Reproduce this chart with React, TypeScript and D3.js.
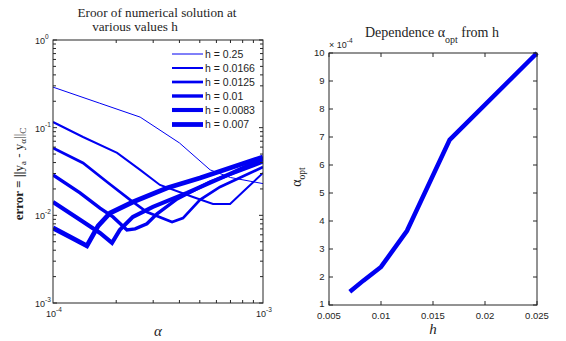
import React from "react";
import * as d3 from "d3";

// ---- Left chart data: error vs alpha for several h ----
const hLabels = ["h = 0.25", "h = 0.0166", "h = 0.0125", "h = 0.01", "h = 0.0083", "h = 0.007"];

const alpha_h025 = [1e-4, 1.67e-4, 2.6e-4, 4.0e-4, 5.6e-4, 7.0e-4, 1e-3];
const err_h025 = [0.29, 0.19, 0.132, 0.067, 0.033, 0.027, 0.023];

const alpha_h0166 = [1e-4, 1.39e-4, 2.02e-4, 2.6e-4, 3.23e-4, 4.64e-4, 5.78e-4, 6.97e-4, 8.39e-4, 1e-3];
const err_h0166 = [0.116, 0.0783, 0.0515, 0.033, 0.0222, 0.0162, 0.0135, 0.0135, 0.0205, 0.0304];

const alpha_h0125 = [1e-4, 1.39e-4, 1.81e-4, 2.33e-4, 2.8e-4, 3.69e-4, 4.16e-4, 5.01e-4, 6.24e-4, 1e-3];
const err_h0125 = [0.0587, 0.0396, 0.024, 0.015, 0.0109, 0.0084, 0.0093, 0.015, 0.0211, 0.0356];

const alpha_h01 = [1e-4, 1.345e-4, 1.674e-4, 1.93e-4, 2.25e-4, 2.46e-4, 2.8e-4, 3.13e-4, 3.9e-4, 5.59e-4, 1e-3];
const err_h01 = [0.0289, 0.018, 0.0121, 0.0096, 0.00682, 0.007, 0.008, 0.0104, 0.0154, 0.024, 0.0406];

const alpha_h0083 = [1e-4, 1.345e-4, 1.674e-4, 1.91e-4, 2.08e-4, 2.4e-4, 2.99e-4, 4.35e-4, 6.97e-4, 1e-3];
const err_h0083 = [0.0142, 0.0089, 0.0063, 0.00485, 0.00682, 0.0096, 0.0125, 0.018, 0.0297, 0.044];

const alpha_h007 = [1e-4, 1.205e-4, 1.45e-4, 1.64e-4, 1.87e-4, 2.4e-4, 3.49e-4, 5.01e-4, 1e-3];
const err_h007 = [0.00718, 0.00567, 0.00448, 0.00757, 0.01064, 0.0142, 0.0205, 0.0267, 0.0463];

const leftXTicks = [1e-4, 1e-3];
const leftXTickExp = ["-4", "-3"];
const leftYTicks = [1, 1e-1, 1e-2, 1e-3];
const leftYTickExp = ["0", "-1", "-2", "-3"];

// ---- Right chart data: alpha_opt vs h ----
const hValues = [0.007, 0.0083, 0.01, 0.0125, 0.0166, 0.025];
const alphaOpt = [1.47, 1.87, 2.36, 3.65, 6.9, 10]; // x 1e-4
const rightXTicks = [0.005, 0.01, 0.015, 0.02, 0.025];
const rightXTickLabels = ["0.005", "0.01", "0.015", "0.02", "0.025"];
const rightYTicks = [1, 2, 3, 4, 5, 6, 7, 8, 9, 10];

const BLUE = "#0000f2";
const AX = "#262626";
const TXT = "#1e1e1e";
const SANS = "'Liberation Sans', Arial, sans-serif";
const SERIF = "'Liberation Serif', 'Times New Roman', serif";

export default function App() {
  // left scales
  const L = { x0: 53, x1: 263, y0: 40, y1: 303 };
  const xL = d3.scaleLog().domain([1e-4, 1e-3]).range([L.x0, L.x1]);
  const yL = d3.scaleLog().domain([1e-3, 1]).range([L.y1, L.y0]);

  const series = [
    { a: alpha_h025, e: err_h025, w: 1 },
    { a: alpha_h0166, e: err_h0166, w: 2 },
    { a: alpha_h0125, e: err_h0125, w: 2.7 },
    { a: alpha_h01, e: err_h01, w: 3.4 },
    { a: alpha_h0083, e: err_h0083, w: 4.1 },
    { a: alpha_h007, e: err_h007, w: 4.8 },
  ];

  const lineL = d3
    .line<[number, number]>()
    .x((d) => xL(d[0]))
    .y((d) => yL(d[1]));

  // minor ticks
  const xMinor: number[] = [];
  for (let k = 2; k <= 9; k++) xMinor.push(k * 1e-4);
  const yMinor: number[] = [];
  for (const dec of [1e-3, 1e-2, 1e-1]) for (let k = 2; k <= 9; k++) yMinor.push(k * dec);

  // right scales
  const R = { x0: 329, x1: 537, y0: 53, y1: 305 };
  const xR = d3.scaleLinear().domain([0.005, 0.025]).range([R.x0, R.x1]);
  const yR = d3.scaleLinear().domain([1, 10]).range([R.y1, R.y0]);
  const lineR = d3
    .line<number>()
    .x((_, i) => xR(hValues[i]))
    .y((d) => yR(d));

  const tL = 3;
  const tR = 4;

  const legendY = [54, 68, 82, 96, 110, 124.5];

  return (
    <svg
      width={566}
      height={341}
      style={{ position: "absolute", left: 0, top: 0, background: "#fff" }}
    >
      <defs>
        <clipPath id="clipL">
          <rect x={L.x0} y={L.y0} width={L.x1 - L.x0} height={L.y1 - L.y0} />
        </clipPath>
      </defs>
      <rect x={0} y={0} width={566} height={341} fill="#fff" />

      {/* ---------- LEFT CHART ---------- */}
      <text x={157} y={17} fontFamily={SERIF} fontSize={13.2} fill={TXT} textAnchor="middle">
        Eroor of numerical solution at
      </text>
      <text x={135} y={31} fontFamily={SERIF} fontSize={13.2} fill={TXT} textAnchor="middle">
        various values h
      </text>

      <g clipPath="url(#clipL)">
        {series.map((s, i) => (
          <path
            key={i}
            d={lineL(s.a.map((a, j) => [a, s.e[j]] as [number, number])) || ""}
            fill="none"
            stroke={BLUE}
            strokeWidth={s.w}
            strokeLinejoin="miter"
          />
        ))}
      </g>

      {/* left box & ticks */}
      <rect x={L.x0} y={L.y0} width={L.x1 - L.x0} height={L.y1 - L.y0} fill="none" stroke={AX} strokeWidth={1} />
      {xMinor.map((v, i) => (
        <g key={"xm" + i} stroke={AX} strokeWidth={1}>
          <line x1={xL(v)} x2={xL(v)} y1={L.y1} y2={L.y1 - tL} />
          <line x1={xL(v)} x2={xL(v)} y1={L.y0} y2={L.y0 + tL} />
        </g>
      ))}
      {yMinor.map((v, i) => (
        <g key={"ym" + i} stroke={AX} strokeWidth={1}>
          <line x1={L.x0} x2={L.x0 + tL} y1={yL(v)} y2={yL(v)} />
          <line x1={L.x1} x2={L.x1 - tL} y1={yL(v)} y2={yL(v)} />
        </g>
      ))}
      {leftYTicks.map((v, i) => (
        <g key={"yt" + i}>
          <line x1={L.x0} x2={L.x0 + tL + 1} y1={yL(v)} y2={yL(v)} stroke={AX} />
          <line x1={L.x1} x2={L.x1 - tL - 1} y1={yL(v)} y2={yL(v)} stroke={AX} />
          <text x={35} y={yL(v) + 4} fontFamily={SANS} fontSize={9} fill={TXT}>
            10
            <tspan dy={-5} fontSize={6.5}>
              {leftYTickExp[i]}
            </tspan>
          </text>
        </g>
      ))}
      {leftXTicks.map((v, i) => (
        <text key={"xt" + i} x={xL(v) + 1} y={317} fontFamily={SANS} fontSize={9} fill={TXT} textAnchor="middle">
          10
          <tspan dy={-5} fontSize={6.5}>
            {leftXTickExp[i]}
          </tspan>
        </text>
      ))}

      {/* left axis labels */}
      <text x={158} y={336} fontFamily={SERIF} fontSize={15} fontStyle="italic" fill={TXT} textAnchor="middle">
        α
      </text>
      <text
        transform="translate(23,174) rotate(-90)"
        fontFamily={SERIF}
        fontSize={13}
        fill={TXT}
        textAnchor="middle"
      >
        <tspan fontWeight="bold">error = ||</tspan>
        <tspan>y</tspan>
        <tspan dy={3} fontSize={9}>a</tspan>
        <tspan dy={-3}> - y</tspan>
        <tspan dy={3} fontSize={9}>α</tspan>
        <tspan dy={-3}>||</tspan>
        <tspan dy={3} fontSize={9}>C</tspan>
      </text>

      {/* legend */}
      {hLabels.map((lab, i) => (
        <g key={"lg" + i}>
          <line x1={172} x2={203} y1={legendY[i]} y2={legendY[i]} stroke={BLUE} strokeWidth={series[i].w} />
          <text x={205} y={legendY[i] + 3.7} fontFamily={SANS} fontSize={10.5} fill={TXT}>
            {lab}
          </text>
        </g>
      ))}

      {/* ---------- RIGHT CHART ---------- */}
      <text x={432} y={37} fontFamily={SERIF} fontSize={14} fill={TXT} textAnchor="middle">
        Dependence α
        <tspan dy={6} fontSize={10}>opt</tspan>
        <tspan dy={-6}> from h</tspan>
      </text>
      <text x={329} y={47.5} fontFamily={SANS} fontSize={9} fill={TXT}>
        × 10
        <tspan dy={-5} fontSize={6.5}>-4</tspan>
      </text>

      <path
        d={lineR(alphaOpt) || ""}
        fill="none"
        stroke={BLUE}
        strokeWidth={4.5}
        strokeLinejoin="miter"
      />

      <rect x={R.x0} y={R.y0} width={R.x1 - R.x0} height={R.y1 - R.y0} fill="none" stroke={AX} strokeWidth={1} />
      {rightXTicks.map((v, i) => (
        <g key={"rx" + i}>
          <line x1={xR(v)} x2={xR(v)} y1={R.y1} y2={R.y1 - tR} stroke={AX} />
          <line x1={xR(v)} x2={xR(v)} y1={R.y0} y2={R.y0 + tR} stroke={AX} />
          <text x={xR(v)} y={318.5} fontFamily={SANS} fontSize={9.5} fill={TXT} textAnchor="middle">
            {rightXTickLabels[i]}
          </text>
        </g>
      ))}
      {rightYTicks.map((v, i) => (
        <g key={"ry" + i}>
          <line x1={R.x0} x2={R.x0 + tR} y1={yR(v)} y2={yR(v)} stroke={AX} />
          <line x1={R.x1} x2={R.x1 - tR} y1={yR(v)} y2={yR(v)} stroke={AX} />
          <text x={324.5} y={yR(v) + (v === 1 ? 1.5 : 3.4)} fontFamily={SANS} fontSize={9.5} fill={TXT} textAnchor="end">
            {v}
          </text>
        </g>
      ))}

      <text x={433} y={334} fontFamily={SERIF} fontSize={15} fontStyle="italic" fill={TXT} textAnchor="middle">
        h
      </text>
      <text transform="translate(301,177) rotate(-90)" fontFamily={SERIF} fontSize={14} fill={TXT} textAnchor="middle">
        α<tspan dy={4} fontSize={9.5}>opt</tspan>
      </text>
    </svg>
  );
}
